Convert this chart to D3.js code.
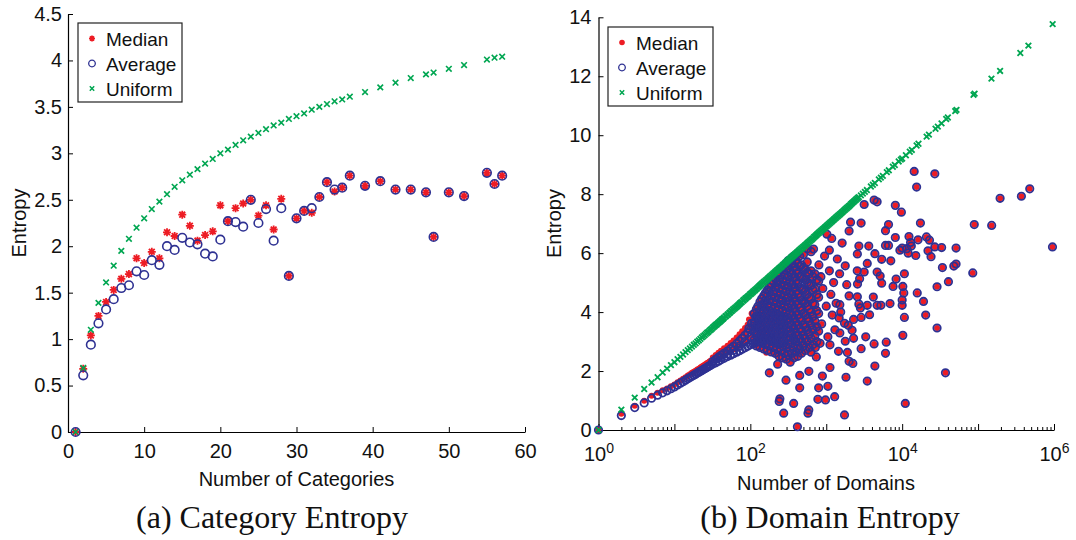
<!DOCTYPE html>
<html>
<head>
<meta charset="utf-8">
<script src="https://cdn.jsdelivr.net/npm/d3@7"></script>
<style>
  body { margin: 0; background: #fff; }
  text { font-family: "Liberation Sans", Arial, sans-serif; fill: #111; }
</style>
</head>
<body>
<div id="chart-area"></div>
<script>
const width = 1076;
const height = 540;

const red = '#ed1c24';
const blue = '#2e3192';
const green = '#00a651';

// (a) Category entropy: one point per number of categories
const catCounts = [1,2,3,4,5,6,7,8,9,10,11,12,13,14,15,16,17,18,19,20,21,22,23,24,25,26,27,28,29,30,
  31,32,33,34,35,36,37,39,41,43,45,47,48,50,52,55,56,57];
const catMedian = [0,0.68,1.04,1.25,1.40,1.53,1.65,1.70,1.87,1.82,1.94,1.87,2.15,2.11,2.34,2.22,2.06,2.12,2.16,2.44,
  2.27,2.41,2.46,2.50,2.33,2.44,2.18,2.51,1.68,2.30,2.38,2.36,2.53,2.69,2.59,2.63,2.76,
  2.65,2.70,2.61,2.61,2.58,2.10,2.58,2.54,2.79,2.67,2.76];
const catAverage = [0,0.61,0.94,1.17,1.32,1.43,1.55,1.58,1.73,1.69,1.85,1.80,2.00,1.96,2.09,2.04,2.02,1.92,1.89,2.07,
  2.27,2.26,2.21,2.50,2.25,2.40,2.06,2.41,1.68,2.30,2.38,2.41,2.53,2.69,2.61,2.63,2.76,
  2.65,2.70,2.61,2.61,2.58,2.10,2.58,2.54,2.79,2.67,2.76];
const catUniform = [0,0.69,1.10,1.39,1.61,1.79,1.95,2.08,2.20,2.30,2.40,2.48,2.56,2.64,2.71,2.77,2.83,2.89,2.94,3.00,
  3.04,3.09,3.14,3.18,3.22,3.26,3.30,3.33,3.37,3.40,3.43,3.47,3.50,3.53,3.56,3.58,3.61,
  3.66,3.71,3.76,3.81,3.85,3.87,3.91,3.95,4.01,4.03,4.04];

// (b) Domain entropy
// small domain counts: [domains, median, average]
const domBand = [
  [1,0,0],[2,0.55,0.49],[3,0.82,0.76],[4,0.99,0.92],[5,1.16,1.08],[6,1.26,1.18],[7,1.35,1.26],[8,1.41,1.33],
  [9,1.48,1.40],[10,1.54,1.46],[11,1.62,1.53],[12,1.68,1.59],[13,1.74,1.64],[14,1.79,1.69],[15,1.85,1.74],
  [16,1.89,1.78],[17,1.94,1.82],[18,1.98,1.86],[19,2.01,1.89],[20,2.05,1.93],[21,2.08,1.96],[22,2.12,1.99],
  [23,2.15,2.02],[24,2.18,2.05],[25,2.21,2.08],[26,2.24,2.10],[27,2.27,2.13],[28,2.29,2.15],[29,2.32,2.18],
  [30,2.35,2.20],[32,2.38,2.24],[32,2.46,2.32],[35,2.42,2.28],[35,2.54,2.40],[38,2.47,2.33],[38,2.62,2.47],
  [41,2.52,2.38],[41,2.60,2.46],[41,2.69,2.53],[45,2.57,2.43],[45,2.77,2.60],[50,2.63,2.49],[50,2.74,2.58],
  [50,2.86,2.68],[55,2.69,2.54],[55,2.95,2.76],[60,2.74,2.59],[60,2.88,2.70],[60,3.04,2.84],[66,2.80,2.64],
  [66,3.14,2.93],[72,2.86,2.69],[72,3.05,2.85],[72,3.25,3.02],[78,2.92,2.74],[78,3.35,3.11],[85,2.98,2.79],
  [85,3.22,3.00],[85,3.46,3.21],[92,3.04,2.84],[92,3.57,3.30],[96,3.75,3.45],[100,3.10,2.89],[100,3.40,3.15],
  [100,3.68,3.40],[104,3.95,3.62],[108,3.14,2.93],[108,3.80,3.52],[116,3.18,2.96],[116,3.55,3.30],
  [116,3.92,3.64],[118,4.15,3.85],[125,3.22,2.99],[125,4.05,3.78],[135,3.26,3.02],[145,3.30,3.05],
  [158,3.33,3.08],[162,2.62,2.95],[172,3.36,3.10],[188,3.38,3.12],[257,5.16,4.40]
];

// dense cloud, median and average coincide: [domains, entropies]
const domCloud = [
  [112,[3.05,3.35,3.65,3.95]],
  [120,[2.85,3.2,3.5,3.8,4.1]],
  [126,[3.0,3.3,3.6,3.9,4.2]],
  [134,[2.8,3.15,3.45,3.75,4.05,4.35]],
  [141,[2.95,3.25,3.55,3.85,4.2,4.45]],
  [150,[2.75,3.1,3.4,3.7,4.0,4.3,4.55]],
  [158,[2.9,3.2,3.5,3.8,4.1,4.4,4.65]],
  [168,[2.7,3.05,3.35,3.65,3.95,4.25,4.55,4.75]],
  [178,[2.85,3.15,3.45,3.75,4.05,4.4,4.7,4.85]],
  [188,[2.65,3.0,3.3,3.6,3.9,4.2,4.55,4.95]],
  [200,[2.8,3.1,3.4,3.7,4.0,4.35,4.7,5.05]],
  [212,[2.6,2.95,3.25,3.55,3.85,4.15,4.5,4.85,5.15]],
  [224,[2.75,3.05,3.35,3.65,3.95,4.3,4.65,5.0,5.3]],
  [238,[2.5,2.9,3.2,3.5,3.8,4.1,4.45,4.8,5.1,5.35]],
  [251,[2.7,3.0,3.3,3.6,3.9,4.25,4.6,4.95,5.25,5.45]],
  [266,[2.45,2.85,3.15,3.45,3.75,4.05,4.4,4.75,5.1,5.5]],
  [282,[2.6,2.95,3.25,3.55,3.85,4.2,4.55,4.9,5.25,5.6]],
  [299,[2.4,2.8,3.1,3.4,3.7,4.0,4.35,4.7,5.05,5.4,5.65]],
  [316,[2.55,2.9,3.2,3.5,3.8,4.15,4.5,4.85,5.2,5.5,5.75]],
  [335,[2.3,2.7,3.05,3.35,3.65,3.95,4.3,4.65,5.0,5.35,5.7]],
  [355,[2.6,2.95,3.25,3.55,3.9,4.25,4.6,4.95,5.3,5.65,5.85]],
  [376,[2.45,2.8,3.1,3.45,3.8,4.15,4.5,4.85,5.2,5.55,5.9]],
  [398,[2.65,3.0,3.3,3.65,4.0,4.35,4.7,5.05,5.4,5.75]],
  [422,[2.5,2.85,3.2,3.55,3.9,4.25,4.6,4.95,5.3,5.65,6.0]],
  [447,[2.75,3.1,3.45,3.8,4.15,4.5,4.85,5.2,5.55,5.9]],
  [473,[2.6,3.0,3.35,3.7,4.05,4.4,4.8,5.2,5.6]],
  [501,[2.85,3.2,3.55,3.95,4.35,4.75,5.15,5.5,5.95]],
  [531,[2.7,3.1,3.5,3.9,4.3,4.7,5.1,5.45]],
  [562,[3.0,3.4,3.8,4.2,4.6,5.0,5.35,5.7,6.15]],
  [596,[2.8,3.25,3.7,4.1,4.5,4.95,5.3]],
  [631,[3.1,3.55,4.0,4.45,4.9,5.4,6.05]],
  [668,[2.9,3.4,3.85,4.3,4.75,5.2]],
  [708,[3.2,3.7,4.25,4.8,5.3]],
  [750,[3.0,3.5,4.05,4.6,5.1]],
  [794,[3.35,3.95,4.5,5.05]]
];

// scattered domains, median and average coincide: [domains, entropy]
const domScatter = [
  [3160,7.65],[4270,7.80],[4680,7.74],[2090,7.05],[2880,7.02],[2000,6.75],[1020,6.64],[1180,6.50],[1620,6.34],
  [680,6.14],[2690,6.24],[3630,6.24],[4370,5.98],[2570,5.97],[3470,5.65],[1780,5.57],[2560,5.40],[3160,5.36],
  [4680,5.36],[2750,5.13],[1860,4.93],[2580,4.95],[2000,4.55],[2570,4.52],[4170,4.51],[1510,4.25],[2690,4.27],
  [3470,4.23],[4680,4.23],[1550,4.00],[2820,4.14],[3720,3.91],[1480,3.80],[2290,3.75],[2880,3.82],[1740,3.62],
  [1950,3.55],[1510,3.29],[2190,3.38],[1050,3.16],[3310,3.16],[1780,3.01],[2290,3.11],[4270,2.92],[1120,2.89],
  [830,2.94],[1450,2.67],[2880,2.76],[720,2.80],[630,2.64],[740,2.48],[1900,2.63],[2000,2.33],[2240,2.26],
  [1120,2.12],[4370,2.17],[590,1.99],[447,1.85],[178,1.94],[1820,1.79],[890,1.83],[295,1.69],[3470,1.66],
  [447,1.43],[794,1.43],[1050,1.48],[245,1.06],[240,0.97],[372,0.90],[776,1.04],[977,1.02],[1290,1.13],
  [589,0.68],[575,0.57],[275,0.57],[1740,0.51],[417,0.11],[229,2.23],
  [800,5.6],[850,5.2],[900,4.8],[950,5.9],[1100,5.4],[1150,4.6],[1250,5.0],[1350,4.3],[1200,3.9],[1000,4.2],
  [870,3.6],[1300,3.4],[1400,5.8],[1500,5.3],[1100,6.1],
  [14400,8.77],[26900,8.69],[15500,8.24],[8130,7.62],[9770,7.39],[6610,6.97],[6030,6.76],[17400,7.02],
  [8130,6.53],[6030,6.26],[6610,6.26],[12300,6.56],[12900,6.36],[13200,6.24],[9330,6.10],[10000,6.17],
  [12000,6.00],[11500,6.15],[16200,6.45],[20900,6.55],[22900,6.44],[26900,6.21],[33100,6.19],[51300,6.17],
  [21900,6.08],[24000,5.88],[15100,5.92],[5370,5.79],[7080,5.74],[33900,5.51],[47900,5.56],[51300,5.63],
  [85100,5.33],[89100,6.97],[151000,6.94],[195000,7.86],[372000,7.93],[479000,8.18],[955000,6.21],
  [10700,5.30],[8320,5.12],[7590,4.87],[5370,4.98],[5130,5.22],[10200,4.87],[10500,4.65],[10000,4.41],
  [10000,4.23],[6920,4.29],[5250,4.23],[15800,4.65],[19100,4.36],[28800,4.86],[40700,5.03],[10700,3.82],
  [20400,3.90],[28800,3.46],[10200,3.21],[6170,2.98],[6030,2.60],[37200,1.94],[11000,0.90]
];

// uniform entropy per domain count: [domains, entropy]
const domUniform = [
  [1,0],[2,0.69],[3,1.10],[4,1.39],[5,1.61],[6,1.79],[7,1.95],[8,2.08],[9,2.20],[10,2.30],[11,2.40],[12,2.48],
  [13,2.56],[14,2.64],[15,2.71],[16,2.77],[17,2.83],[18,2.89],[19,2.94],[20,3.00],[21,3.04],[22,3.09],[23,3.14],
  [24,3.18],[25,3.22],[26,3.26],[27,3.30],[28,3.33],[29,3.37],[30,3.40],[31,3.43],[32,3.47],[33,3.50],[34,3.53],
  [35,3.56],[36,3.58],[37,3.61],[38,3.64],[39,3.66],[40,3.69],[41,3.71],[42,3.74],[43,3.76],[44,3.78],[45,3.81],
  [47,3.85],[48,3.87],[50,3.91],[51,3.93],[53,3.97],[54,3.99],[56,4.03],[57,4.04],[59,4.08],[61,4.11],[63,4.14],
  [65,4.17],[67,4.20],[69,4.23],[71,4.26],[73,4.29],[75,4.32],[77,4.34],[80,4.38],[82,4.41],[85,4.44],[87,4.47],
  [90,4.50],[93,4.53],[96,4.56],[99,4.60],[102,4.62],[105,4.65],[108,4.68],[111,4.71],[115,4.74],[118,4.77],
  [122,4.80],[126,4.84],[130,4.87],[134,4.90],[138,4.93],[142,4.96],[147,4.99],[151,5.02],[156,5.05],[161,5.08],
  [166,5.11],[171,5.14],[176,5.17],[181,5.20],[187,5.23],[193,5.26],[199,5.29],[205,5.32],[211,5.35],[217,5.38],
  [224,5.41],[231,5.44],[238,5.47],[245,5.50],[253,5.53],[261,5.56],[269,5.60],[277,5.62],[286,5.66],[295,5.69],
  [304,5.72],[313,5.75],[323,5.78],[333,5.81],[343,5.84],[353,5.87],[364,5.90],[375,5.93],[387,5.96],[399,5.99],
  [411,6.02],[424,6.05],[437,6.08],[450,6.11],[464,6.14],[478,6.17],[493,6.20],[508,6.23],[524,6.26],[540,6.29],
  [557,6.32],[574,6.35],[592,6.38],[610,6.41],[629,6.44],[648,6.47],[668,6.50],[689,6.54],[710,6.57],[732,6.60],
  [754,6.63],[777,6.66],[801,6.69],[826,6.72],[851,6.75],[877,6.78],[904,6.81],[932,6.84],[960,6.87],[990,6.90],
  [1020,6.93],[1052,6.96],[1084,6.99],[1118,7.02],[1152,7.05],[1188,7.08],[1224,7.11],[1262,7.14],[1300,7.17],
  [1340,7.20],[1381,7.23],[1424,7.26],[1467,7.29],[1513,7.32],[1559,7.35],[1607,7.38],[1656,7.41],[1708,7.44],
  [1760,7.47],[1815,7.50],[1870,7.53],[1928,7.56],[1987,7.59],[2048,7.62],[2111,7.66],[2176,7.69],[2243,7.72],
  [2312,7.75],[2383,7.78],[2457,7.81],[2532,7.84],[2610,7.87],[2690,7.90],[2858,7.96],[3036,8.02],[3226,8.08],
  [3427,8.14],[3868,8.26],[4110,8.32],[4366,8.38],[4928,8.50],[5236,8.56],[5563,8.62],[6279,8.75],[6671,8.81],
  [7530,8.93],[8000,8.99],[9000,9.11],[9600,9.17],[10000,9.21],[11200,9.32],[12600,9.44],[13400,9.50],
  [15500,9.65],[16400,9.71],[21000,9.95],[22500,10.02],[27500,10.22],[29500,10.29],[33000,10.40],[38000,10.55],
  [40000,10.60],[50000,10.82],[52000,10.86],[87000,11.37],[90000,11.41],[150000,11.92],[195000,12.18],
  [360000,12.79],[460000,13.04],[960000,13.77]
];

const legendLabels = ['Median', 'Average', 'Uniform'];

// marker shapes
const starPath = 'M-4,0H4M0,-4V4M-2.9,-2.9L2.9,2.9M-2.9,2.9L2.9,-2.9';
const crossPath = 'M-2.8,-2.8L2.8,2.8M-2.8,2.8L2.8,-2.8';

const svg = d3.select('#chart-area')
  .append('svg')
  .attr('width', width)
  .attr('height', height);

function styleAxis(g) {
  g.attr('font-family', '"Liberation Sans", Arial, sans-serif').attr('font-size', 20);
  g.select('.domain').attr('stroke', '#000').attr('stroke-width', 1.2);
  g.selectAll('.tick line').attr('stroke', '#000').attr('stroke-width', 1);
  g.selectAll('.tick text').attr('fill', '#111');
}

function drawLegend(x0, y0, w, h, markers) {
  const lg = svg.append('g').attr('transform', `translate(${x0},${y0})`);
  lg.append('rect').attr('width', w).attr('height', h)
    .attr('fill', '#fff').attr('stroke', '#222').attr('stroke-width', 1.2);
  legendLabels.forEach((lab, i) => {
    const by = 22.5 + i * 25;
    markers[i](lg.append('g').attr('transform', `translate(14,${by - 7})`));
    lg.append('text').attr('x', 28).attr('y', by).attr('font-size', 19).text(lab);
  });
}

/* ---------------- (a) Category Entropy ---------------- */
const xCat = d3.scaleLinear().domain([0, 60]).range([68, 525]);
const yCat = d3.scaleLinear().domain([0, 4.5]).range([432, 14]);

svg.append('g')
  .attr('transform', 'translate(0,432)')
  .call(d3.axisBottom(xCat).tickValues(d3.range(0, 61, 10)).tickSize(-5).tickSizeOuter(0).tickPadding(12))
  .call(styleAxis);

svg.append('g')
  .attr('transform', 'translate(68,0)')
  .call(d3.axisLeft(yCat).tickValues(d3.range(0, 4.51, 0.5)).tickSize(-5).tickSizeOuter(0)
    .tickPadding(6).tickFormat(d3.format('~g')))
  .call(styleAxis);

svg.append('text').attr('x', 296.5).attr('y', 486).attr('text-anchor', 'middle')
  .attr('font-size', 20).text('Number of Categories');
svg.append('text').attr('transform', 'translate(26,223) rotate(-90)').attr('text-anchor', 'middle')
  .attr('font-size', 20).text('Entropy');

const catRows = catCounts.map((n, i) => ({n: n, med: catMedian[i], avg: catAverage[i], uni: catUniform[i]}));
const gCat = svg.append('g');

gCat.selectAll('.med').data(catRows).join('path')
  .attr('class', 'med')
  .attr('d', starPath)
  .attr('transform', d => `translate(${xCat(d.n)},${yCat(d.med)})`)
  .attr('fill', 'none').attr('stroke', red).attr('stroke-width', 1.8);

gCat.selectAll('.avg').data(catRows).join('circle')
  .attr('class', 'avg')
  .attr('cx', d => xCat(d.n)).attr('cy', d => yCat(d.avg)).attr('r', 4.3)
  .attr('fill', 'none').attr('stroke', blue).attr('stroke-width', 1.6);

gCat.selectAll('.uni').data(catRows).join('path')
  .attr('class', 'uni')
  .attr('d', crossPath)
  .attr('transform', d => `translate(${xCat(d.n)},${yCat(d.uni)})`)
  .attr('fill', 'none').attr('stroke', green).attr('stroke-width', 1.6);

drawLegend(78, 23, 104, 79, [
  g => g.append('path').attr('d', 'M-3,0H3M0,-3V3M-2.1,-2.1L2.1,2.1M-2.1,2.1L2.1,-2.1')
        .attr('stroke', red).attr('stroke-width', 1.6),
  g => g.append('circle').attr('r', 3.3).attr('fill', 'none').attr('stroke', blue).attr('stroke-width', 1.3),
  g => g.append('path').attr('d', 'M-2.2,-2.2L2.2,2.2M-2.2,2.2L2.2,-2.2').attr('stroke', green).attr('stroke-width', 1.5)
]);

/* ---------------- (b) Domain Entropy ---------------- */
const xDom = d3.scaleLog().domain([1, 1e6]).range([598.5, 1054]);
const yDom = d3.scaleLinear().domain([0, 14]).range([430, 17.3]);

const decades = d3.range(0, 7).map(e => Math.pow(10, e));
const minors = d3.range(0, 6).flatMap(e => d3.range(2, 10).map(m => m * Math.pow(10, e)));

svg.append('g')
  .attr('transform', 'translate(0,430)')
  .call(d3.axisBottom(xDom).tickValues(minors).tickSize(-3).tickSizeOuter(0).tickFormat(''))
  .call(g => g.select('.domain').remove())
  .selectAll('.tick line').attr('stroke', '#000');

const domX = svg.append('g')
  .attr('transform', 'translate(0,430)')
  .call(d3.axisBottom(xDom).tickValues(decades).tickSize(-6).tickSizeOuter(0).tickPadding(17)
    .tickFormat(d => {
      const e = Math.round(Math.log10(d));
      return e % 2 === 0 ? String(e) : '';
    }))
  .call(styleAxis);

domX.selectAll('.tick text').each(function() {
  const t = d3.select(this);
  const e = t.text();
  if (!e) return;
  t.text(null);
  t.append('tspan').text('10');
  t.append('tspan').attr('dy', '-0.6em').attr('font-size', 14).text(e);
});

svg.append('g')
  .attr('transform', 'translate(598.5,0)')
  .call(d3.axisLeft(yDom).tickValues(d3.range(0, 15, 2)).tickSize(-5).tickSizeOuter(0).tickPadding(7))
  .call(styleAxis);

svg.append('text').attr('x', 826).attr('y', 490).attr('text-anchor', 'middle')
  .attr('font-size', 20).text('Number of Domains');
svg.append('text').attr('transform', 'translate(561,223.5) rotate(-90)').attr('text-anchor', 'middle')
  .attr('font-size', 20).text('Entropy');

const domRows = [
  ...domBand.map(([n, m, a]) => ({n: n, med: m, avg: a})),
  ...domCloud.flatMap(([n, hs]) => hs.map(h => ({n: n, med: h, avg: h}))),
  ...domScatter.map(([n, h]) => ({n: n, med: h, avg: h}))
];

const gDom = svg.append('g');

gDom.selectAll('.med').data(domRows).join('circle')
  .attr('class', 'med')
  .attr('cx', d => xDom(d.n)).attr('cy', d => yDom(d.med)).attr('r', 3)
  .attr('fill', red);

gDom.selectAll('.avg').data(domRows).join('circle')
  .attr('class', 'avg')
  .attr('cx', d => xDom(d.n)).attr('cy', d => yDom(d.avg)).attr('r', 3.7)
  .attr('fill', 'none').attr('stroke', blue).attr('stroke-width', 1.8);

gDom.selectAll('.uni').data(domUniform).join('path')
  .attr('class', 'uni')
  .attr('d', 'M-2.8,-2.8L2.8,2.8M-2.8,2.8L2.8,-2.8')
  .attr('transform', d => `translate(${xDom(d[0])},${yDom(d[1])})`)
  .attr('fill', 'none').attr('stroke', green).attr('stroke-width', 1.8);

drawLegend(608, 27, 105, 79, [
  g => g.append('circle').attr('r', 2.8).attr('fill', red),
  g => g.append('circle').attr('r', 3.3).attr('fill', 'none').attr('stroke', blue).attr('stroke-width', 1.3),
  g => g.append('path').attr('d', 'M-2.2,-2.2L2.2,2.2M-2.2,2.2L2.2,-2.2').attr('stroke', green).attr('stroke-width', 1.5)
]);

/* ---------------- captions ---------------- */
const serif = '"Liberation Serif", "DejaVu Serif", serif';
svg.append('text').attr('x', 272).attr('y', 528).attr('text-anchor', 'middle')
  .style('font-family', serif).attr('font-size', 32)
  .text('(a) Category Entropy');
svg.append('text').attr('x', 830).attr('y', 528).attr('text-anchor', 'middle')
  .style('font-family', serif).attr('font-size', 32)
  .text('(b) Domain Entropy');
</script>
</body>
</html>
